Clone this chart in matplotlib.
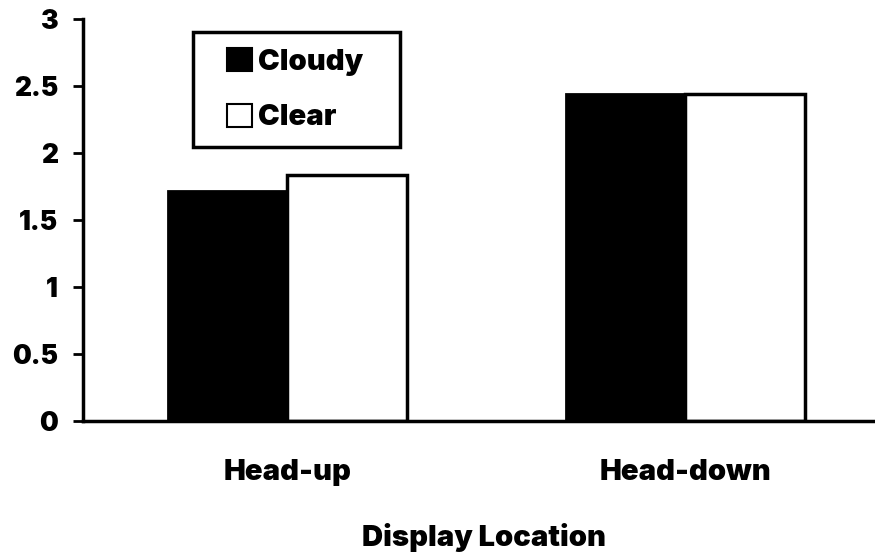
import numpy as np
import matplotlib.pyplot as plt
from matplotlib.patches import Rectangle

plt.rcParams['font.family'] = ['Inter', 'DejaVu Sans']
plt.rcParams['font.weight'] = 'black'

# values
locations = ['Head-up', 'Head-down']
cloudy = [1.72, 2.44]
clear = [1.84, 2.44]

fs = 21

fig = plt.figure(figsize=(8.75, 5.6), dpi=100)
ax = fig.add_axes([0.095, 0.248, 0.905, 0.718])

x = np.arange(len(locations))
w = 0.3
ax.bar(x - w/2, cloudy, w, color='black', edgecolor='black', linewidth=2, label='Cloudy')
ax.bar(x + w/2, clear, w, color='white', edgecolor='black', linewidth=2.5, label='Clear')

ax.set_xlim(-0.513, 1.477)
ax.set_ylim(0, 3)
ax.set_yticks([0, 0.5, 1, 1.5, 2, 2.5, 3])
ax.set_yticklabels(['0', '0.5', '1', '1.5', '2', '2.5', '3'])
ax.set_xticks(x)
ax.set_xticklabels(locations)
ax.tick_params(axis='y', length=7, width=2, labelsize=19, pad=11)
ax.tick_params(axis='x', length=0, labelsize=fs, pad=27)
for t in ax.get_xticklabels() + ax.get_yticklabels():
    t.set_fontweight('black')

ax.set_xlabel('Display Location', fontsize=fs, fontweight='black', labelpad=27)
ax.xaxis.label.set_x(0.506)

for s in ['top', 'right']:
    ax.spines[s].set_visible(False)
ax.spines['left'].set_linewidth(2.5)
ax.spines['bottom'].set_linewidth(2.5)

# legend box drawn as its own frame, entries placed inside
ax.add_patch(Rectangle((0.139, 0.682), 0.261, 0.286, transform=ax.transAxes,
                       facecolor='white', edgecolor='black', linewidth=2.5, zorder=4))
leg = ax.legend(loc='center left', bbox_to_anchor=(0.182, 0.824), fontsize=fs,
                frameon=False, handlelength=0.85, handleheight=0.85,
                handletextpad=0.2, borderpad=0, labelspacing=0.95, borderaxespad=0)
leg.set_zorder(5)
for t in leg.get_texts():
    t.set_fontweight('black')
for h in leg.legend_handles:
    h.set_linewidth(1.5)

fig.savefig('out.png', dpi=100)
